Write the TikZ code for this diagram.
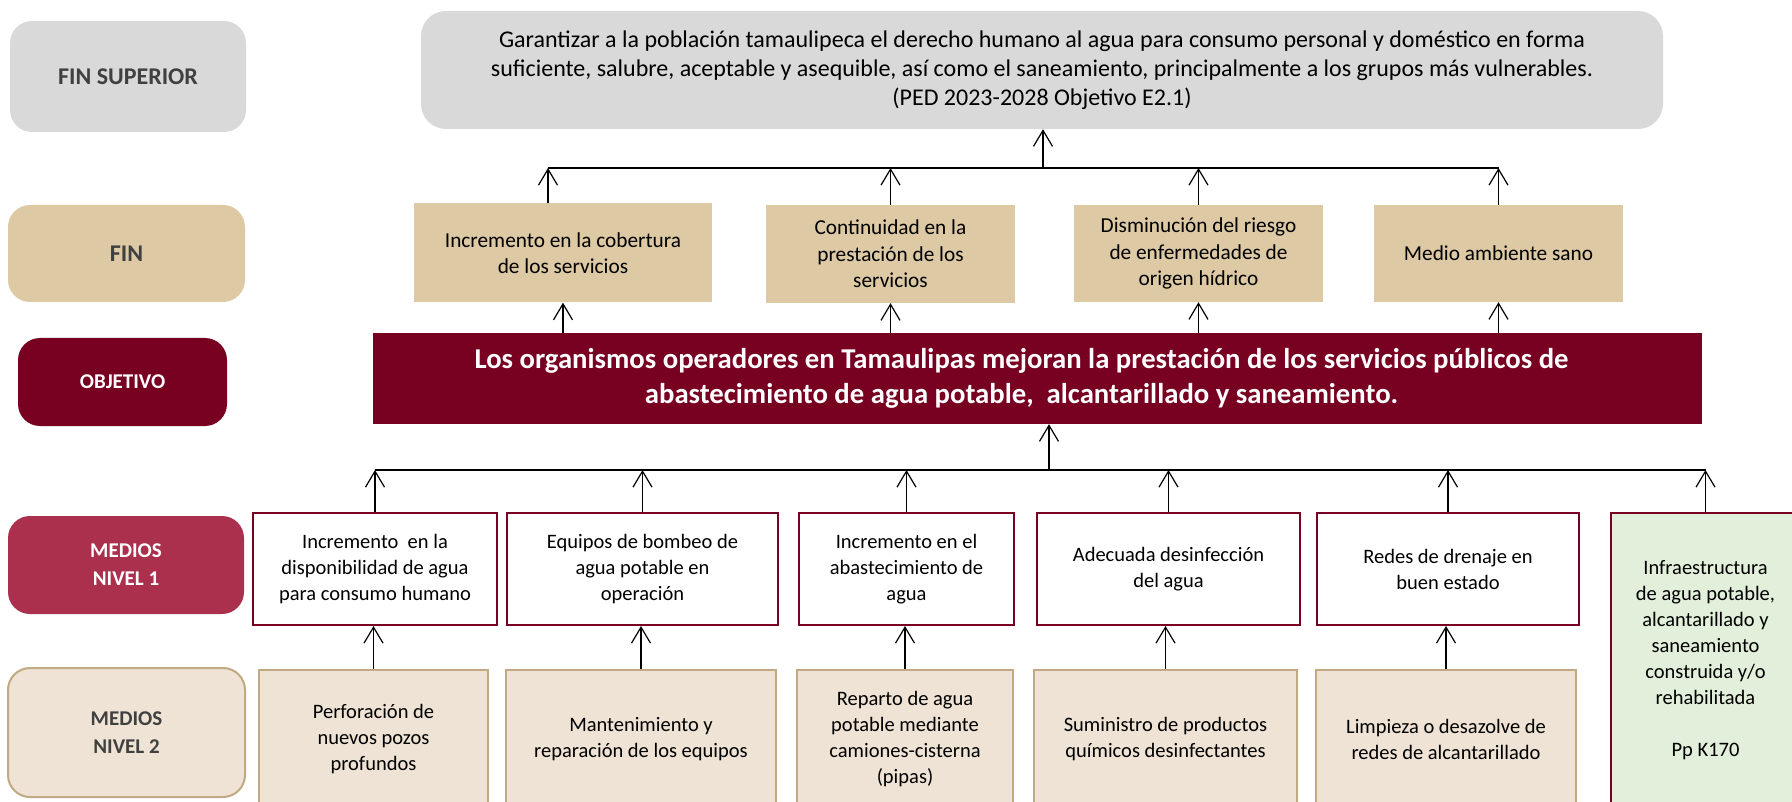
\documentclass[tikz,border=0pt]{standalone}
\usepackage{fontspec}
\setmainfont{Carlito}
\usetikzlibrary{arrows.meta,positioning}

\definecolor{grisfin}{HTML}{D9D9D9}
\definecolor{tanfin}{HTML}{DDC9A3}
\definecolor{guinda}{HTML}{780021}
\definecolor{rosamed}{HTML}{AA304E}
\definecolor{cremamed}{HTML}{EEE3D4}
\definecolor{bordecrema}{HTML}{C1A983}
\definecolor{verdemed}{HTML}{E2EFDA}
\definecolor{textogris}{HTML}{404040}

\begin{document}
\begin{tikzpicture}[x=1pt,y=-1pt,
  etiqueta/.style={rounded corners=22pt,inner sep=0pt,align=center,
    font=\fontsize{21}{28}\selectfont\bfseries},
  caja/.style={inner sep=0pt,align=center,font=\fontsize{20.5}{26}\selectfont},
  fin/.style={caja,fill=tanfin,font=\fontsize{21.3}{26.5}\selectfont},
  medio/.style={caja,draw=guinda,line width=2pt,fill=white,minimum height=112pt},
  accion/.style={caja,draw=bordecrema,line width=2pt,fill=cremamed,minimum height=138pt},
  flecha/.style={-{Straight Barb[length=16pt,width=19pt]},line width=1.2pt},
  linea/.style={line width=1.2pt}]
\useasboundingbox (0,0) rectangle (1792,802);
\clip (0,0) rectangle (1792,802);

% etiquetas de nivel
\node[etiqueta,fill=grisfin,text=textogris,minimum width=236pt,minimum height=111pt,
  font=\fontsize{24}{28}\selectfont\bfseries] (lsup) at (128,76.5) {FIN SUPERIOR};
\node[etiqueta,fill=tanfin,text=textogris,minimum width=237pt,minimum height=97pt,
  font=\fontsize{24}{28}\selectfont\bfseries] (lfin) at (126.5,253.5) {FIN};
\node[etiqueta,fill=guinda,text=white,minimum width=209pt,minimum height=88pt] (lobj) at (122.5,382) {OBJETIVO};
\node[etiqueta,fill=rosamed,text=white,minimum width=236pt,minimum height=98pt] (lmed1) at (126,565) {MEDIOS\\NIVEL 1};
\node[etiqueta,fill=cremamed,draw=bordecrema,line width=2pt,text=textogris,minimum width=237pt,minimum height=129pt] (lmed2) at (126.5,732.5) {MEDIOS\\NIVEL 2};

% fin superior
\node[caja,fill=grisfin,rounded corners=25pt,minimum width=1242pt,minimum height=118pt,
  font=\fontsize{24}{29}\selectfont] (sup) at (1042,70)
  {Garantizar a la población tamaulipeca el derecho humano al agua para consumo personal y doméstico en forma\\
   suficiente, salubre, aceptable y asequible, así como el saneamiento, principalmente a los grupos más vulnerables.\\
   (PED 2023-2028 Objetivo E2.1)};

% fines
\node[fin,minimum width=298pt,minimum height=99pt] (fin1) at (563,253) {Incremento en la cobertura\\de los servicios};
\node[fin,minimum width=249pt,minimum height=98pt] (fin2) at (890.5,254) {Continuidad en la\\prestación de los\\servicios};
\node[fin,minimum width=249pt,minimum height=97pt] (fin3) at (1198.5,253.5) {Disminución del riesgo\\de enfermedades de\\origen hídrico};
\node[fin,minimum width=249pt,minimum height=97pt] (fin4) at (1498.5,253.5) {Medio ambiente sano};

% objetivo
\node[caja,fill=guinda,text=white,minimum width=1329pt,minimum height=91pt,
  font=\fontsize{28.7}{35}\selectfont\bfseries] (obj) at (1037.5,378.5)
  {Los organismos operadores en Tamaulipas mejoran la prestación de los servicios públicos de\hspace*{32pt}\\
   abastecimiento de agua potable,\ \ alcantarillado y saneamiento.\hspace*{32pt}};

% medios nivel 1
\node[medio,minimum width=244pt] (m1a) at (375,569) {Incremento\ \ en la\\disponibilidad de agua\\para consumo humano};
\node[medio,minimum width=271pt] (m1b) at (642.5,569) {Equipos de bombeo de\\agua potable en\\operación};
\node[medio,minimum width=215pt] (m1c) at (906.5,569) {Incremento en el\\abastecimiento de\\agua};
\node[medio,minimum width=263pt] (m1d) at (1168.5,569) {Adecuada desinfección\\del agua};
\node[medio,minimum width=262pt] (m1e) at (1448,569) {Redes de drenaje en\\buen estado};
\node[caja,draw=guinda,line width=2pt,fill=verdemed,minimum width=189pt,minimum height=295pt] (verde) at (1705.5,660.5)
  {Infraestructura\\de agua potable,\\alcantarillado y\\saneamiento\\construida y/o\\rehabilitada\\[26pt]Pp K170};

% medios nivel 2
\node[accion,minimum width=229pt] (m2a) at (373.5,739) {Perforación de\\nuevos pozos\\profundos};
\node[accion,minimum width=270pt] (m2b) at (641,739) {Mantenimiento y\\reparación de los equipos};
\node[accion,minimum width=216pt] (m2c) at (905,739) {Reparto de agua\\potable mediante\\camiones-cisterna\\(pipas)};
\node[accion,minimum width=263pt] (m2d) at (1165.5,739) {Suministro de productos\\químicos desinfectantes};
\node[accion,minimum width=260pt] (m2e) at (1446,739) {Limpieza o desazolve de\\redes de alcantarillado};

% barras de union
\coordinate (barraSup) at (1043,168);
\coordinate (fin1sal) at ([xshift=-15pt]fin1.north);
\coordinate (barraMed) at (1049,470);
\draw[linea] (fin1sal |- barraSup) -- (fin4.north |- barraSup);
\draw[linea] (m1a.north |- barraMed) -- (verde.north |- barraMed);

\path[flecha]
  (barraSup) edge (barraSup |- sup.south)
  (fin1sal) edge (fin1sal |- barraSup)
  (fin2.north) edge (fin2.north |- barraSup)
  (fin3.north) edge (fin3.north |- barraSup)
  (fin4.north) edge (fin4.north |- barraSup)
  (obj.north -| fin1.south) edge (fin1.south)
  (obj.north -| fin2.south) edge (fin2.south)
  (obj.north -| fin3.south) edge (fin3.south)
  (obj.north -| fin4.south) edge (fin4.south)
  (barraMed) edge (barraMed |- obj.south)
  (m1a.north) edge (m1a.north |- barraMed)
  (m1b.north) edge (m1b.north |- barraMed)
  (m1c.north) edge (m1c.north |- barraMed)
  (m1d.north) edge (m1d.north |- barraMed)
  (m1e.north) edge (m1e.north |- barraMed)
  (verde.north) edge (verde.north |- barraMed)
  (m2a.north) edge (m2a.north |- m1a.south)
  (m2b.north) edge (m2b.north |- m1b.south)
  (m2c.north) edge (m2c.north |- m1c.south)
  (m2d.north) edge (m2d.north |- m1d.south)
  (m2e.north) edge (m2e.north |- m1e.south);
\end{tikzpicture}
\end{document}
